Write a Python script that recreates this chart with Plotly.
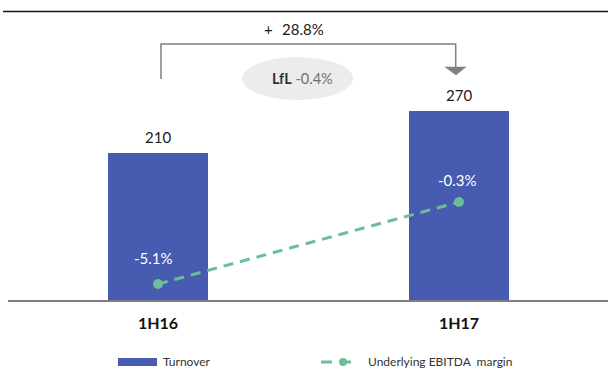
import plotly.graph_objects as go

# ---- data ----
categories = ["1H16", "1H17"]
turnover = [210, 270]
ebitda_margin = [-5.1, -0.3]
growth_label = "28.8%"
lfl_label = "-0.4%"
series_names = ["Turnover", "Underlying EBITDA\u00a0\u00a0margin"]

# ---- styling ----
BAR = "#475bb0"
GREEN = "#6dbd96"
FONT = "Lato"
W, H = 608, 370
ML, MR, MT, MB = 8, 0, 10, 70
PW, PH = W - ML - MR, H - MT - MB


def px(x):
    return (x - ML) / PW


def py(y):
    return (H - MB - y) / PH


fig = go.Figure()
fig.add_trace(go.Bar(
    x=categories, y=turnover, name=series_names[0],
    marker=dict(color=BAR, line=dict(width=0)), width=0.332,
    showlegend=False, hoverinfo="skip",
))
fig.add_trace(go.Scatter(
    x=categories, y=ebitda_margin, name=series_names[1], yaxis="y2",
    mode="lines+markers",
    line=dict(color=GREEN, width=3, dash="10px,7px"),
    marker=dict(color=GREEN, size=10),
    showlegend=False, hoverinfo="skip",
))

annotations = []
# bar value labels
for c, v in zip(categories, turnover):
    annotations.append(dict(x=c, y=v, xref="x", yref="y", text=str(v),
                            showarrow=False, yanchor="middle", yshift=16,
                            font=dict(family=FONT, size=15, color="#1a1a1a")))
# margin labels
shifts = [(-4, 26), (-1.5, 22.5)]
for (c, v), (dx, dy) in zip(zip(categories, ebitda_margin), shifts):
    annotations.append(dict(x=c, y=v, xref="x", yref="y2", text=f"{v:.1f}%",
                            showarrow=False, yanchor="middle", xshift=dx, yshift=dy,
                            font=dict(family=FONT, size=15, color="white")))
# growth bracket texts
annotations.append(dict(x=px(268), y=py(29), xref="paper", yref="paper", text="+",
                        showarrow=False, xanchor="center", yanchor="middle",
                        font=dict(family=FONT, size=15, color="#1a1a1a")))
annotations.append(dict(x=px(303), y=py(29), xref="paper", yref="paper", text=growth_label,
                        showarrow=False, xanchor="center", yanchor="middle",
                        font=dict(family=FONT, size=15, color="#1a1a1a")))
annotations.append(dict(x=px(302), y=py(78), xref="paper", yref="paper",
                        text=f"<b>LfL</b> <span style='color:#6f6f6f'>{lfl_label}</span>",
                        showarrow=False, xanchor="center", yanchor="middle",
                        font=dict(family=FONT, size=14.5, color="#333333")))
# legend texts
annotations.append(dict(x=px(161), y=py(361), xref="paper", yref="paper", text=series_names[0],
                        showarrow=False, xanchor="left", yanchor="middle",
                        font=dict(family=FONT, size=12, color="#333333")))
annotations.append(dict(x=px(366), y=py(361), xref="paper", yref="paper", text=series_names[1],
                        showarrow=False, xanchor="left", yanchor="middle",
                        font=dict(family=FONT, size=12, color="#333333")))

GRAY = "#808080"
shapes = [
    # top rule
    dict(type="line", xref="paper", yref="paper", x0=px(3), x1=px(608), y0=py(11.5), y1=py(11.5),
         line=dict(color="#111111", width=1.5)),
    # ellipse
    dict(type="circle", xref="paper", yref="paper", x0=px(242), x1=px(353), y0=py(57), y1=py(100),
         fillcolor="#ececec", line=dict(width=0), layer="below"),
    # bracket
    dict(type="path", xref="paper", yref="paper",
         path=f"M {px(161)},{py(79)} L {px(161)},{py(44)} L {px(455.7)},{py(44)} L {px(455.7)},{py(67)}",
         line=dict(color=GRAY, width=1.5)),
    dict(type="path", xref="paper", yref="paper",
         path=f"M {px(445)},{py(67)} L {px(466)},{py(67)} L {px(456)},{py(75)} Z",
         fillcolor=GRAY, line=dict(color=GRAY, width=0.5)),
    # axis line
    dict(type="line", xref="paper", yref="paper", x0=0, x1=1, y0=py(301), y1=py(301),
         line=dict(color="#7f7f7f", width=2)),
    # legend markers
    dict(type="rect", xref="paper", yref="paper", x0=px(118), x1=px(157), y0=py(358), y1=py(366),
         fillcolor=BAR, line=dict(width=0)),
    dict(type="line", xref="paper", yref="paper", x0=px(321), x1=px(332), y0=py(362), y1=py(362),
         line=dict(color=GREEN, width=3)),
    dict(type="line", xref="paper", yref="paper", x0=px(340), x1=px(351), y0=py(362), y1=py(362),
         line=dict(color=GREEN, width=3)),
    dict(type="circle", xref="paper", yref="paper", x0=px(339), x1=px(347), y0=py(358), y1=py(366),
         fillcolor=GREEN, line=dict(width=0)),
]

fig.update_layout(
    width=W, height=H,
    margin=dict(l=ML, r=MR, t=MT, b=MB),
    paper_bgcolor="white", plot_bgcolor="white",
    font=dict(family=FONT, color="#1a1a1a"),
    xaxis=dict(type="category", range=[-0.4983, 1.495], showgrid=False, zeroline=False,
               showline=False, ticks="", ticklabelstandoff=12,
               tickfont=dict(family=FONT, size=16, color="#111111"),
               tickvals=categories, ticktext=[f"<b>{c}</b>" for c in categories]),
    yaxis=dict(range=[0, 414.3], visible=False, showgrid=False, zeroline=False),
    yaxis2=dict(range=[-6.035, 10.94], overlaying="y", side="right", visible=False,
                showgrid=False, zeroline=False),
    annotations=annotations,
    shapes=shapes,
    showlegend=False,
    bargap=0,
)

fig.write_html("out.html")
